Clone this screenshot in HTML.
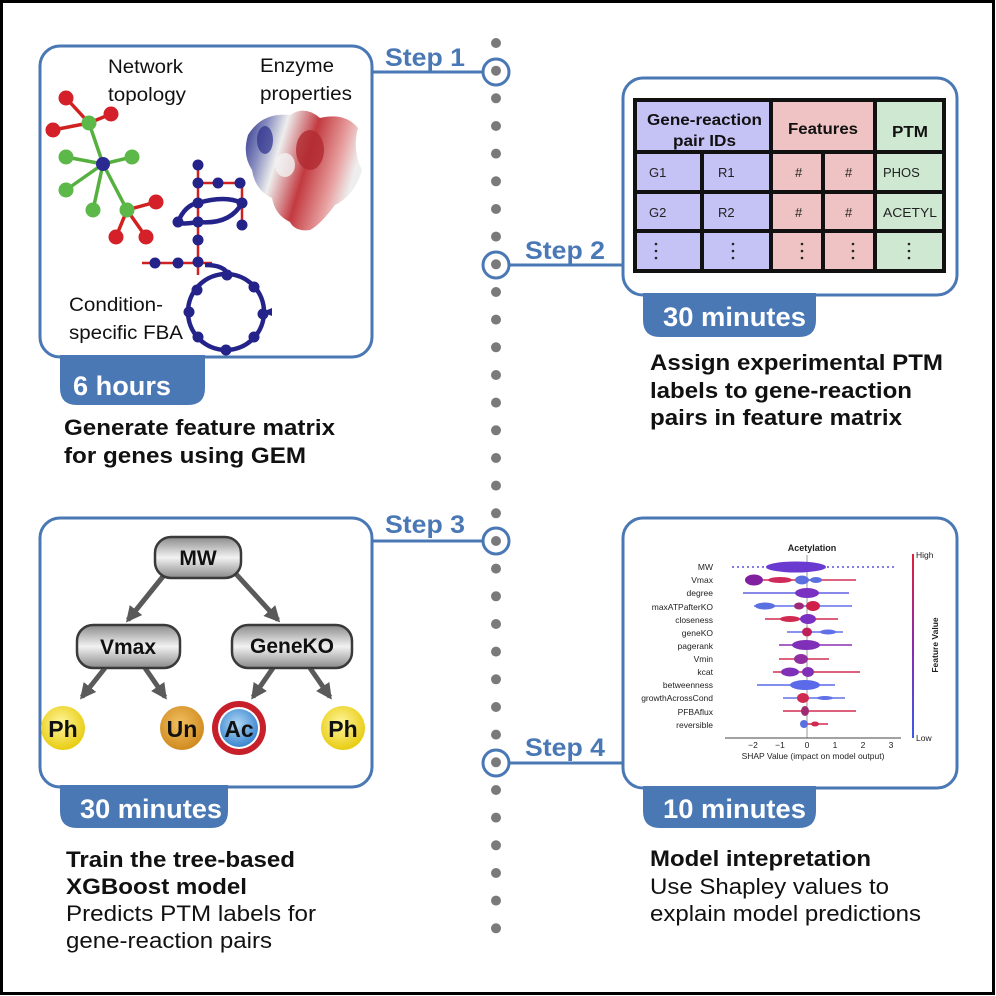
<!DOCTYPE html>
<html><head><meta charset="utf-8"><style>
html,body{margin:0;padding:0;background:#fff}
svg{display:block}
text{font-family:"Liberation Sans",Arial,sans-serif}
</style></head><body>
<svg width="996" height="996" viewBox="0 0 996 996" xmlns="http://www.w3.org/2000/svg">
<defs>
<linearGradient id="gb" x1="0" y1="0" x2="0" y2="1"><stop offset="0" stop-color="#8a8a8a"/><stop offset="0.5" stop-color="#f2f2f2"/><stop offset="1" stop-color="#8a8a8a"/></linearGradient>
<radialGradient id="yel" cx="0.45" cy="0.4" r="0.6"><stop offset="0" stop-color="#fff6a0"/><stop offset="1" stop-color="#e8cc10"/></radialGradient>
<radialGradient id="org" cx="0.45" cy="0.4" r="0.6"><stop offset="0" stop-color="#f2c060"/><stop offset="1" stop-color="#d08a20"/></radialGradient>
<radialGradient id="blu" cx="0.45" cy="0.4" r="0.6"><stop offset="0" stop-color="#b0d8f5"/><stop offset="1" stop-color="#3b86d0"/></radialGradient>
<linearGradient id="prot" x1="0" y1="0" x2="1" y2="0.3"><stop offset="0" stop-color="#2a2e8a"/><stop offset="0.2" stop-color="#8a90c0"/><stop offset="0.35" stop-color="#eee"/><stop offset="0.6" stop-color="#c23a40"/><stop offset="0.85" stop-color="#e8a0a0"/><stop offset="1" stop-color="#eee"/></linearGradient>
<linearGradient id="cbar" x1="0" y1="0" x2="0" y2="1"><stop offset="0" stop-color="#e0203a"/><stop offset="0.5" stop-color="#8a2ab0"/><stop offset="1" stop-color="#3a5ae8"/></linearGradient>
<marker id="ah" viewBox="0 0 10 10" refX="8" refY="5" markerWidth="3.2" markerHeight="3.2" orient="auto"><path d="M0,0 L10,5 L0,10 z" fill="#5a5a5a"/></marker>
</defs>
<rect x="1.5" y="1.5" width="992" height="992" fill="#fff" stroke="#000" stroke-width="3"/>

<g fill="#7a7a7a">
<circle cx="496" cy="43" r="5"/><circle cx="496" cy="70.7" r="5"/><circle cx="496" cy="98.3" r="5"/><circle cx="496" cy="126" r="5"/><circle cx="496" cy="153.6" r="5"/><circle cx="496" cy="181.3" r="5"/><circle cx="496" cy="209" r="5"/><circle cx="496" cy="236.6" r="5"/><circle cx="496" cy="264.3" r="5"/><circle cx="496" cy="292" r="5"/><circle cx="496" cy="319.6" r="5"/><circle cx="496" cy="347.3" r="5"/><circle cx="496" cy="375" r="5"/><circle cx="496" cy="402.6" r="5"/><circle cx="496" cy="430.3" r="5"/><circle cx="496" cy="458" r="5"/><circle cx="496" cy="485.6" r="5"/><circle cx="496" cy="513.3" r="5"/><circle cx="496" cy="541" r="5"/><circle cx="496" cy="568.6" r="5"/><circle cx="496" cy="596.3" r="5"/><circle cx="496" cy="624" r="5"/><circle cx="496" cy="651.6" r="5"/><circle cx="496" cy="679.3" r="5"/><circle cx="496" cy="707" r="5"/><circle cx="496" cy="734.6" r="5"/><circle cx="496" cy="762.3" r="5"/><circle cx="496" cy="790" r="5"/><circle cx="496" cy="817.6" r="5"/><circle cx="496" cy="845.3" r="5"/><circle cx="496" cy="873" r="5"/><circle cx="496" cy="900.6" r="5"/><circle cx="496" cy="928.3" r="5"/>
</g>
<g fill="none" stroke="#4a78b5" stroke-width="3">
<circle cx="496" cy="72" r="13"/><circle cx="496" cy="265" r="13"/><circle cx="496" cy="541" r="13"/><circle cx="496" cy="763" r="13"/>
<line x1="372" y1="72" x2="483" y2="72"/><line x1="509" y1="265" x2="623" y2="265"/>
<line x1="372" y1="541" x2="483" y2="541"/><line x1="509" y1="763" x2="623" y2="763"/>
</g>
<g fill="#4a78b5" font-weight="bold" font-size="25">
<text x="385" y="66" textLength="80" lengthAdjust="spacingAndGlyphs">Step 1</text><text x="525" y="259" textLength="80" lengthAdjust="spacingAndGlyphs">Step 2</text>
<text x="385" y="533" textLength="80" lengthAdjust="spacingAndGlyphs">Step 3</text><text x="525" y="756" textLength="80" lengthAdjust="spacingAndGlyphs">Step 4</text>
</g>

<g fill="#4a78b5">
<path d="M60,355 H205 V388 Q205,405 188,405 H77 Q60,405 60,388 Z"/>
<path d="M643,293 H816 V320 Q816,337 799,337 H660 Q643,337 643,320 Z"/>
<path d="M60,785 H228 V811 Q228,828 211,828 H77 Q60,828 60,811 Z"/>
<path d="M643,786 H816 V811 Q816,828 799,828 H660 Q643,828 643,811 Z"/>
</g>
<g fill="#fff" font-weight="bold" font-size="27">
<text x="73" y="395" textLength="98" lengthAdjust="spacingAndGlyphs">6 hours</text><text x="663" y="326" textLength="143" lengthAdjust="spacingAndGlyphs">30 minutes</text>
<text x="80" y="818" textLength="142" lengthAdjust="spacingAndGlyphs">30 minutes</text><text x="663" y="818" textLength="143" lengthAdjust="spacingAndGlyphs">10 minutes</text>
</g>

<g fill="none" stroke="#4a78b5" stroke-width="3">
<rect x="40" y="46" width="332" height="311" rx="20"/>
<rect x="623" y="78" width="334" height="217" rx="20"/>
<rect x="40" y="518" width="332" height="269" rx="20"/>
<rect x="623" y="518" width="334" height="270" rx="20"/>
</g>

<g font-size="19" fill="#111">
<text x="108" y="73" textLength="75" lengthAdjust="spacingAndGlyphs">Network</text><text x="108" y="101" textLength="78" lengthAdjust="spacingAndGlyphs">topology</text>
<text x="260" y="72" textLength="74" lengthAdjust="spacingAndGlyphs">Enzyme</text><text x="260" y="100" textLength="92" lengthAdjust="spacingAndGlyphs">properties</text>
<text x="69" y="311" textLength="94" lengthAdjust="spacingAndGlyphs">Condition-</text><text x="69" y="339" textLength="114" lengthAdjust="spacingAndGlyphs">specific FBA</text>
</g>
<g stroke-width="3.5">
<g stroke="#d02020"><line x1="89" y1="123" x2="66" y2="98"/><line x1="89" y1="123" x2="111" y2="114"/><line x1="89" y1="123" x2="53" y2="130"/>
<line x1="127" y1="210" x2="156" y2="202"/><line x1="127" y1="210" x2="116" y2="237"/><line x1="127" y1="210" x2="146" y2="237"/></g>
<g stroke="#55b040"><line x1="103" y1="164" x2="89" y2="123"/><line x1="103" y1="164" x2="66" y2="157"/><line x1="103" y1="164" x2="132" y2="157"/><line x1="103" y1="164" x2="66" y2="190"/><line x1="103" y1="164" x2="93" y2="210"/><line x1="103" y1="164" x2="127" y2="210"/></g>
</g>
<g fill="#d42028"><circle cx="66" cy="98" r="7.5"/><circle cx="111" cy="114" r="7.5"/><circle cx="53" cy="130" r="7.5"/><circle cx="156" cy="202" r="7.5"/><circle cx="116" cy="237" r="7.5"/><circle cx="146" cy="237" r="7.5"/></g>
<g fill="#5cb848"><circle cx="89" cy="123" r="7.5"/><circle cx="66" cy="157" r="7.5"/><circle cx="132" cy="157" r="7.5"/><circle cx="66" cy="190" r="7.5"/><circle cx="93" cy="210" r="7.5"/><circle cx="127" cy="210" r="7.5"/></g>
<circle cx="103" cy="164" r="7" fill="#2a2a90"/>
<path d="M248,135 Q262,112 290,115 Q305,105 320,118 Q345,112 358,128 Q352,150 362,170 Q355,195 335,205 Q320,225 310,230 Q295,232 290,222 Q275,215 272,198 Q255,190 252,170 Q242,155 248,135 Z" fill="url(#prot)"/>
<ellipse cx="310" cy="150" rx="14" ry="20" fill="#b02a30" opacity="0.8"/>
<ellipse cx="285" cy="165" rx="10" ry="12" fill="#f2f2f2" opacity="0.8"/>
<ellipse cx="265" cy="140" rx="8" ry="14" fill="#2a2e8a" opacity="0.7"/>
<g stroke="#d02020" stroke-width="2.5" fill="none">
<line x1="198" y1="165" x2="198" y2="275"/><line x1="198" y1="183" x2="242" y2="183"/><line x1="242" y1="183" x2="242" y2="225"/>
<line x1="142" y1="263" x2="212" y2="263"/>
</g>
<g stroke="#23238a" stroke-width="4.5" fill="none">
<path d="M198,203 Q225,195 242,203 Q230,225 198,222 Q180,225 178,222 Q185,205 198,203"/>
<circle cx="226" cy="312" r="38"/>
<path d="M205,265 Q225,265 228,275"/>
</g>
<path d="M262,312 l10,-4 l0,8 z" fill="#23238a"/>
<g fill="#23238a"><circle cx="198" cy="165" r="5.5"/><circle cx="198" cy="183" r="5.5"/><circle cx="218" cy="183" r="5.5"/><circle cx="240" cy="183" r="5.5"/><circle cx="198" cy="203" r="5.5"/><circle cx="242" cy="203" r="5.5"/><circle cx="198" cy="222" r="5.5"/><circle cx="178" cy="222" r="5.5"/><circle cx="242" cy="225" r="5.5"/><circle cx="198" cy="240" r="5.5"/><circle cx="198" cy="262" r="5.5"/><circle cx="155" cy="263" r="5.5"/><circle cx="178" cy="263" r="5.5"/>
<circle cx="227" cy="275" r="5.5"/><circle cx="254" cy="287" r="5.5"/><circle cx="263" cy="314" r="5.5"/><circle cx="254" cy="337" r="5.5"/><circle cx="226" cy="350" r="5.5"/><circle cx="198" cy="337" r="5.5"/><circle cx="189" cy="312" r="5.5"/><circle cx="197" cy="290" r="5.5"/></g>
<g font-weight="bold" font-size="22" fill="#111">
<text x="64" y="435" textLength="271" lengthAdjust="spacingAndGlyphs">Generate feature matrix</text><text x="64" y="463" textLength="242" lengthAdjust="spacingAndGlyphs">for genes using GEM</text>
</g>

<g>
<rect x="633" y="98" width="138" height="175" fill="#c5c2f5"/>
<rect x="771" y="98" width="104" height="175" fill="#efc3c3"/>
<rect x="875" y="98" width="71" height="175" fill="#cfe8d2"/>
<g stroke="#111" stroke-width="4" fill="none">
<rect x="635" y="100" width="309" height="171"/>
<line x1="633" y1="152" x2="946" y2="152"/><line x1="633" y1="192" x2="946" y2="192"/><line x1="633" y1="231" x2="946" y2="231"/>
<line x1="771" y1="98" x2="771" y2="273"/><line x1="875" y1="98" x2="875" y2="273"/>
<line x1="702" y1="152" x2="702" y2="273"/><line x1="823" y1="152" x2="823" y2="273"/>
</g>
<g font-weight="bold" font-size="16" fill="#111">
<text x="647" y="125" textLength="115" lengthAdjust="spacingAndGlyphs">Gene-reaction</text><text x="673" y="146" textLength="63" lengthAdjust="spacingAndGlyphs">pair IDs</text>
<text x="788" y="134" textLength="70" lengthAdjust="spacingAndGlyphs">Features</text><text x="892" y="137" textLength="36" lengthAdjust="spacingAndGlyphs">PTM</text>
</g>
<g font-size="13" fill="#222">
<text x="649" y="177">G1</text><text x="718" y="177">R1</text><text x="795" y="177">#</text><text x="845" y="177">#</text><text x="883" y="177">PHOS</text>
<text x="649" y="217">G2</text><text x="718" y="217">R2</text><text x="795" y="217">#</text><text x="845" y="217">#</text><text x="883" y="217" textLength="54" lengthAdjust="spacingAndGlyphs">ACETYL</text>
</g>
<g fill="#222">
<circle cx="656" cy="244" r="1.3"/><circle cx="656" cy="251" r="1.3"/><circle cx="656" cy="258" r="1.3"/>
<circle cx="733" cy="244" r="1.3"/><circle cx="733" cy="251" r="1.3"/><circle cx="733" cy="258" r="1.3"/>
<circle cx="802" cy="244" r="1.3"/><circle cx="802" cy="251" r="1.3"/><circle cx="802" cy="258" r="1.3"/>
<circle cx="853" cy="244" r="1.3"/><circle cx="853" cy="251" r="1.3"/><circle cx="853" cy="258" r="1.3"/>
<circle cx="909" cy="244" r="1.3"/><circle cx="909" cy="251" r="1.3"/><circle cx="909" cy="258" r="1.3"/>
</g>
</g>
<g font-weight="bold" font-size="22" fill="#111">
<text x="650" y="370" textLength="293" lengthAdjust="spacingAndGlyphs">Assign experimental PTM</text><text x="650" y="398" textLength="262" lengthAdjust="spacingAndGlyphs">labels to gene-reaction</text><text x="650" y="425" textLength="252" lengthAdjust="spacingAndGlyphs">pairs in feature matrix</text>
</g>

<g stroke="#5a5a5a" stroke-width="5" marker-end="url(#ah)">
<line x1="165" y1="574" x2="128" y2="620"/><line x1="236" y1="574" x2="278" y2="620"/>
<line x1="105" y1="668" x2="82" y2="697"/><line x1="145" y1="668" x2="165" y2="697"/>
<line x1="273" y1="668" x2="253" y2="697"/><line x1="310" y1="668" x2="330" y2="697"/>
</g>
<g stroke="#3a3a3a" stroke-width="2.5" fill="url(#gb)">
<rect x="155" y="537" width="86" height="41" rx="16"/>
<rect x="77" y="625" width="103" height="43" rx="16"/>
<rect x="232" y="625" width="120" height="43" rx="16"/>
</g>
<g font-weight="bold" font-size="21" fill="#111" text-anchor="middle">
<text x="198" y="565">MW</text><text x="128" y="654">Vmax</text><text x="292" y="653">GeneKO</text>
</g>
<circle cx="63" cy="728" r="22" fill="url(#yel)"/>
<circle cx="182" cy="728" r="22" fill="url(#org)"/>
<circle cx="239" cy="728" r="27" fill="#c8202a"/><circle cx="239" cy="728" r="21" fill="#fff"/><circle cx="239" cy="728" r="19" fill="url(#blu)"/>
<circle cx="343" cy="728" r="22" fill="url(#yel)"/>
<g font-weight="bold" font-size="23" fill="#111" text-anchor="middle">
<text x="63" y="737">Ph</text><text x="182" y="737">Un</text><text x="239" y="737">Ac</text><text x="343" y="737">Ph</text>
</g>
<g font-size="22" fill="#111">
<text x="66" y="867" font-weight="bold" textLength="229" lengthAdjust="spacingAndGlyphs">Train the tree-based</text>
<text x="66" y="894" font-weight="bold" textLength="181" lengthAdjust="spacingAndGlyphs">XGBoost model</text>
<text x="66" y="921" textLength="250" lengthAdjust="spacingAndGlyphs">Predicts PTM labels for</text>
<text x="66" y="948" textLength="206" lengthAdjust="spacingAndGlyphs">gene-reaction pairs</text>
</g>

<g font-size="8.5" fill="#222" text-anchor="end">
<text x="713" y="570">MW</text><text x="713" y="583">Vmax</text><text x="713" y="596">degree</text><text x="713" y="610">maxATPafterKO</text><text x="713" y="623">closeness</text><text x="713" y="636">geneKO</text><text x="713" y="649">pagerank</text><text x="713" y="662">Vmin</text><text x="713" y="675">kcat</text><text x="713" y="688">betweenness</text><text x="713" y="701">growthAcrossCond</text><text x="713" y="715">PFBAflux</text><text x="713" y="728">reversible</text>
</g>
<text x="812" y="551" font-size="9" font-weight="bold" fill="#222" text-anchor="middle">Acetylation</text>
<line x1="807" y1="555" x2="807" y2="738" stroke="#999" stroke-width="1"/>
<g stroke-width="1.5">
<line x1="732" y1="567" x2="894" y2="567" stroke="#5a50e0" stroke-dasharray="2 3"/>
<line x1="745" y1="580" x2="856" y2="580" stroke="#d0305a"/>
<line x1="743" y1="593" x2="849" y2="593" stroke="#6060e0"/>
<line x1="754" y1="606" x2="852" y2="606" stroke="#6070e8"/>
<line x1="765" y1="619" x2="838" y2="619" stroke="#d02a50"/>
<line x1="787" y1="632" x2="843" y2="632" stroke="#6070e8"/>
<line x1="779" y1="645" x2="852" y2="645" stroke="#8a30b0"/>
<line x1="779" y1="659" x2="829" y2="659" stroke="#d03050"/>
<line x1="773" y1="672" x2="860" y2="672" stroke="#d02a50"/>
<line x1="757" y1="685" x2="835" y2="685" stroke="#5a6ae8"/>
<line x1="783" y1="698" x2="845" y2="698" stroke="#6070e8"/>
<line x1="783" y1="711" x2="856" y2="711" stroke="#d02a50"/>
<line x1="801" y1="724" x2="828" y2="724" stroke="#d02a50"/>
</g>
<g>
<ellipse cx="796" cy="567" rx="30" ry="5.5" fill="#6a3ad0"/>
<ellipse cx="754" cy="580" rx="9" ry="5.5" fill="#8020a0"/><ellipse cx="780" cy="580" rx="12" ry="3" fill="#d02a5a"/><ellipse cx="802" cy="580" rx="7" ry="4.5" fill="#5a70e0"/><ellipse cx="816" cy="580" rx="6" ry="3" fill="#5a70e0"/>
<ellipse cx="807" cy="593" rx="12" ry="5" fill="#7a30c0"/>
<ellipse cx="765" cy="606" rx="10" ry="3.5" fill="#5a70e0"/><ellipse cx="799" cy="606" rx="5" ry="3.5" fill="#a02a7a"/><ellipse cx="813" cy="606" rx="7" ry="5" fill="#d0204a"/>
<ellipse cx="790" cy="619" rx="10" ry="3" fill="#d02a50"/><ellipse cx="808" cy="619" rx="8" ry="5" fill="#7a30c0"/>
<ellipse cx="807" cy="632" rx="5" ry="4.5" fill="#c0205a"/><ellipse cx="828" cy="632" rx="8" ry="2.5" fill="#6070e8"/>
<ellipse cx="806" cy="645" rx="14" ry="5" fill="#8030b8"/>
<ellipse cx="801" cy="659" rx="7" ry="5" fill="#9030a0"/>
<ellipse cx="790" cy="672" rx="9" ry="4.5" fill="#8030b8"/><ellipse cx="808" cy="672" rx="6" ry="5" fill="#8030b8"/>
<ellipse cx="805" cy="685" rx="15" ry="5" fill="#5a6ae8"/>
<ellipse cx="803" cy="698" rx="6" ry="5" fill="#d02a50"/><ellipse cx="825" cy="698" rx="8" ry="2" fill="#6070e8"/>
<ellipse cx="805" cy="711" rx="4" ry="5" fill="#a02a70"/>
<ellipse cx="804" cy="724" rx="4" ry="4" fill="#5a70e0"/><ellipse cx="815" cy="724" rx="4" ry="2.5" fill="#d02a50"/>
</g>
<line x1="725" y1="738" x2="901" y2="738" stroke="#444" stroke-width="1"/>
<g font-size="8.5" fill="#222" text-anchor="middle">
<text x="753" y="748">−2</text><text x="780" y="748">−1</text><text x="807" y="748">0</text><text x="835" y="748">1</text><text x="863" y="748">2</text><text x="891" y="748">3</text>
<text x="813" y="759">SHAP Value (impact on model output)</text>
</g>
<rect x="912" y="554" width="2" height="184" fill="url(#cbar)"/>
<g font-size="8.5" fill="#222"><text x="916" y="558">High</text><text x="916" y="741">Low</text></g>
<text transform="translate(938,645) rotate(-90)" font-size="8.5" font-weight="bold" fill="#222" text-anchor="middle">Feature Value</text>
<g font-size="22" fill="#111">
<text x="650" y="866" font-weight="bold" textLength="221" lengthAdjust="spacingAndGlyphs">Model intepretation</text>
<text x="650" y="894" textLength="239" lengthAdjust="spacingAndGlyphs">Use Shapley values to</text>
<text x="650" y="921" textLength="271" lengthAdjust="spacingAndGlyphs">explain model predictions</text>
</g>
</svg>
</body></html>
